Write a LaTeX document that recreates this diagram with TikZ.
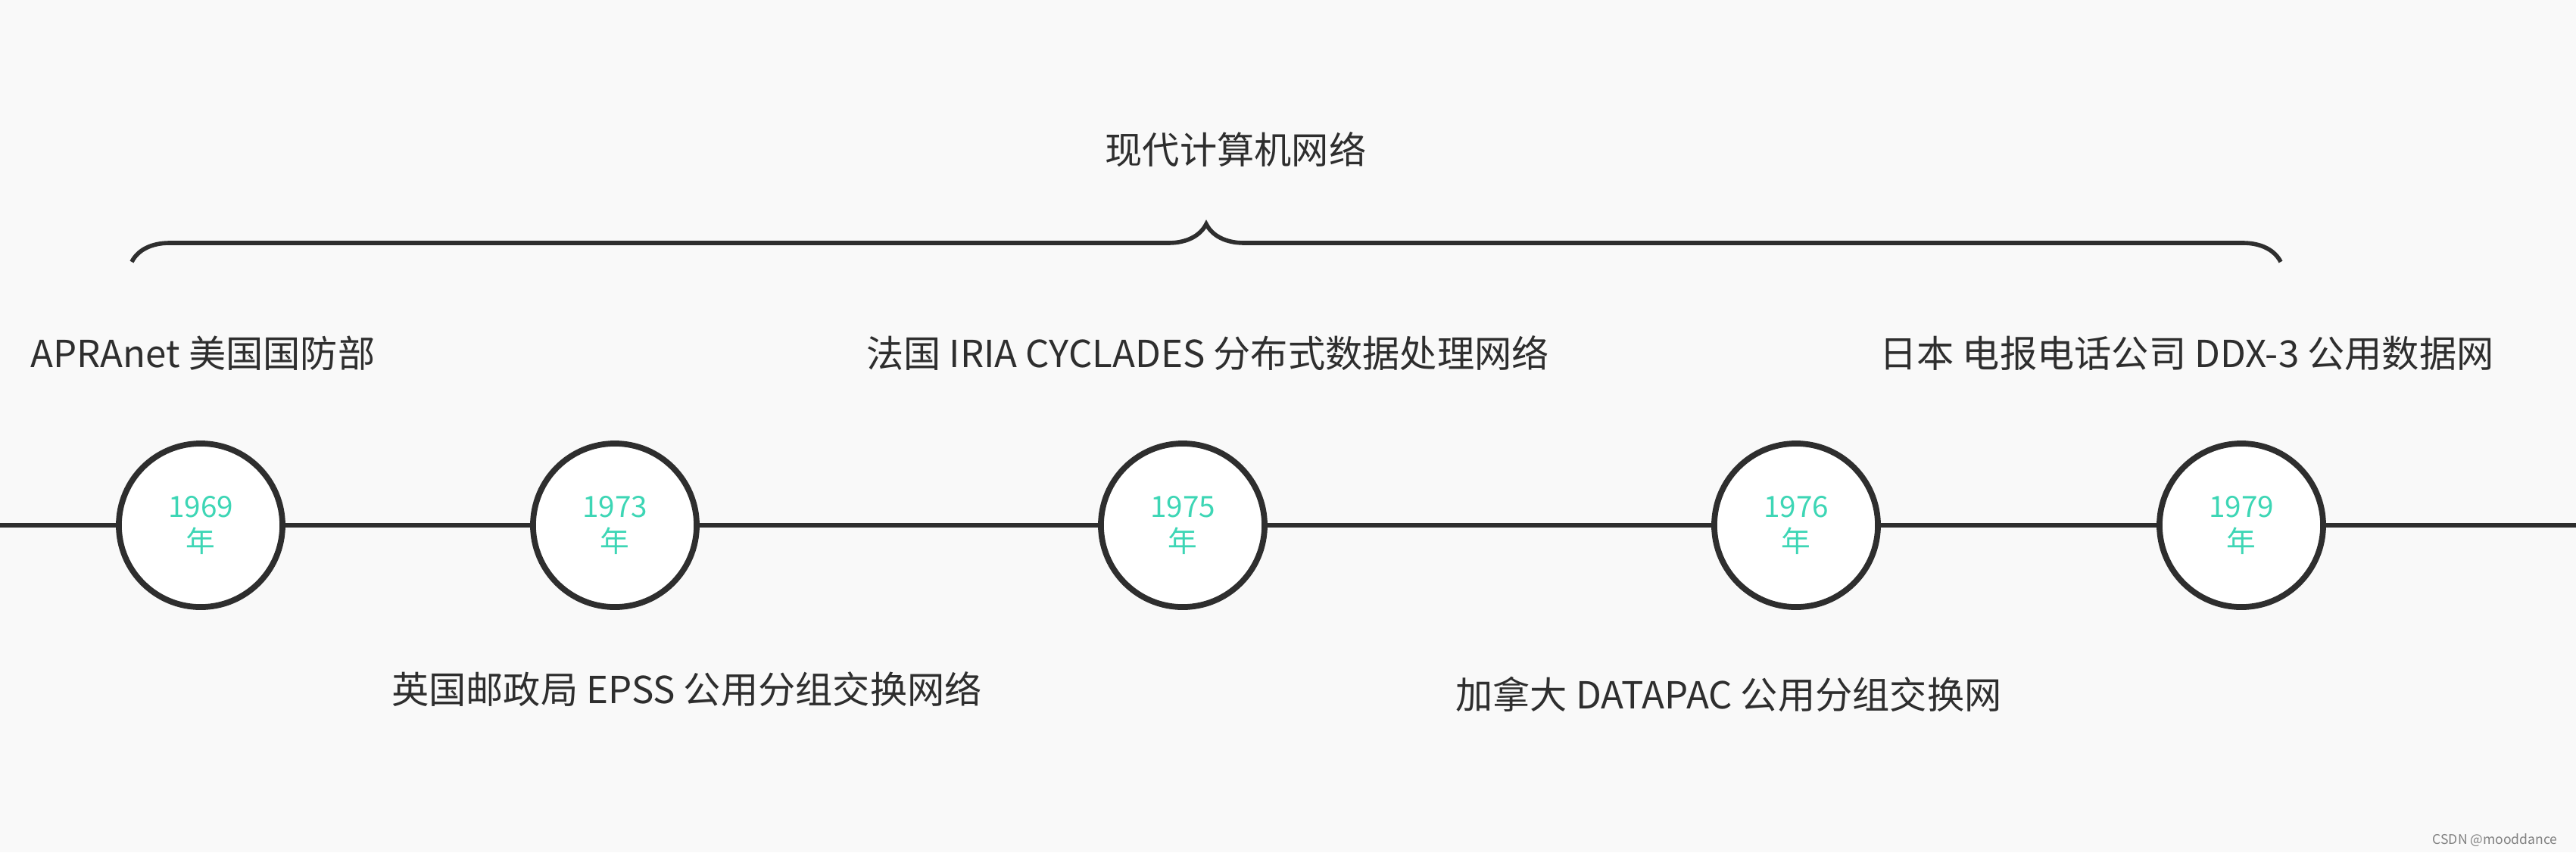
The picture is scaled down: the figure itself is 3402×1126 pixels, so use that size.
\documentclass[tikz,border=0pt]{standalone}
\usepackage{fontspec}
\setmainfont{Noto Sans CJK SC}
\usetikzlibrary{decorations.pathreplacing}
\definecolor{bg}{HTML}{F9F9F9}
\definecolor{ln}{HTML}{2E2E2E}
\definecolor{teal}{HTML}{3DD6B5}
\tikzset{
 yr/.style={circle,draw=ln,line width=2.2pt,fill=white,minimum size=2.16cm,text=teal,font=\fontsize{11}{13}\selectfont,align=center,inner sep=0pt},
 lbl/.style={font=\fontsize{14}{16}\selectfont,text=ln},
}
\begin{document}
\begin{tikzpicture}[x=0.01cm,y=-0.01cm]
\clip (0,0) rectangle (3402,1126);
\fill[bg] (0,0) rectangle (3402,1126);
\coordinate (L) at (0,694);
\coordinate (R) at (3402,694);
\draw[ln,line width=1.8pt] (L) -- (R);
\node[yr] (c1) at (265,694) {1969\\年};
\node[yr] (c2) at (812,694) {1973\\年};
\node[yr] (c3) at (1562,694) {1975\\年};
\node[yr] (c4) at (2372,694) {1976\\年};
\node[yr] (c5) at (2960,694) {1979\\年};
\coordinate (b1) at (174,346);
\coordinate (b2) at (3012,346);
\draw[ln,line width=1.6pt,decoration={brace,amplitude=0.5cm},decorate] (b1) -- (b2);
\node[lbl] (t) at (1632,198) {现代计算机网络};
\node[lbl] (a1) at (268,467) {APRAnet 美国国防部};
\node[lbl] (a3) at (1595,467) {法国 IRIA CYCLADES 分布式数据处理网络};
\node[lbl,anchor=west] (a5) at (2470,467) {日本 电报电话公司 DDX-3 公用数据网};
\node[lbl] (a2) at (907,911) {英国邮政局 EPSS 公用分组交换网络};
\node[lbl] (a4) at (2283,917) {加拿大 DATAPAC 公用分组交换网};
\node[font=\fontsize{5}{6}\selectfont,text=gray,anchor=east] (w) at (3390,1110) {CSDN @mooddance};
\end{tikzpicture}
\end{document}
